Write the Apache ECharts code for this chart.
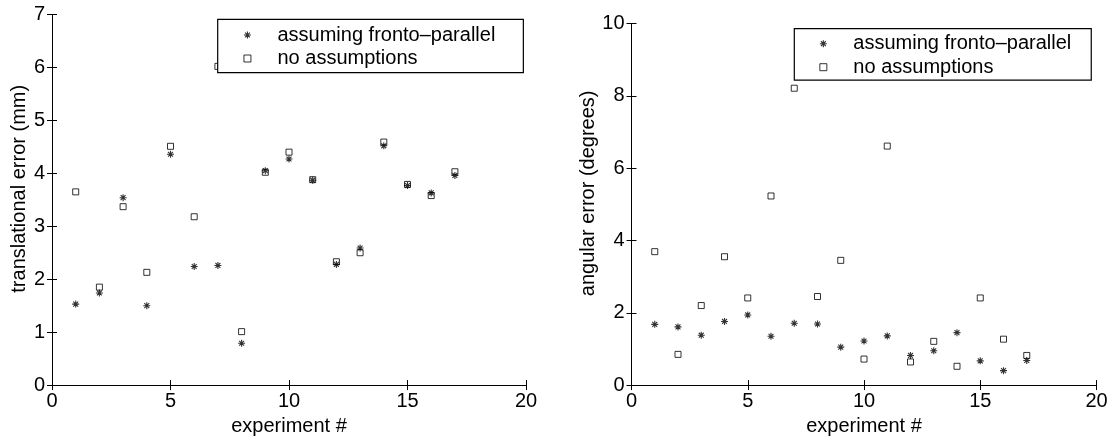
<!DOCTYPE html>
<html>
<head>
<meta charset="utf-8">
<script src="https://cdn.jsdelivr.net/npm/echarts@6/dist/echarts.min.js"></script>
<style>
html,body{margin:0;padding:0;background:#fff;}
#chart{width:1117px;height:441px;}
</style>
</head>
<body>
<div id="chart"></div>
<script>
// ---- data ----
var experiments = [1,2,3,4,5,6,7,8,9,10,11,12,13,14,15,16,17];
var transFronto = [1.53,1.74,3.54,1.50,4.36,2.24,2.26,0.79,4.05,4.27,3.87,2.28,2.59,4.52,3.77,3.63,3.96];
var transNoAssume = [3.65,1.85,3.37,2.13,4.51,3.18,6.02,1.01,4.02,4.40,3.88,2.33,2.50,4.59,3.79,3.58,4.03];
var angFronto = [1.68,1.61,1.38,1.76,1.94,1.35,1.71,1.69,1.05,1.22,1.36,0.82,0.95,1.45,0.67,0.40,0.68];
var angNoAssume = [3.69,0.85,2.20,3.55,2.41,5.23,8.21,2.45,3.45,0.72,6.61,0.64,1.21,0.52,2.41,1.27,0.82];
var seriesNames = ['assuming fronto\u2013parallel', 'no assumptions'];
var xTicks = {min:0, max:20, interval:5};
var yTicksLeft = {min:0, max:7, interval:1};
var yTicksRight = {min:0, max:10, interval:2};
var xLabel = 'experiment #';
var yLabelLeft = 'translational error (mm)';
var yLabelRight = 'angular error (degrees)';

function pairs(xs, ys){ return xs.map(function(x,i){ return [x, ys[i]]; }); }

var FONT = '"Liberation Sans", Arial, Helvetica, sans-serif';
var STAR = 'path://M5,0L5,10M0,5L10,5M1.5,1.5L8.5,8.5M8.5,1.5L1.5,8.5';
var SQUARE = 'path://M0,0L10,0L10,10L0,10Z';

var starStyle = {color:'#000', borderColor:'#000', borderWidth:1.1};
var squareStyle = {color:'rgba(0,0,0,0)', borderColor:'#000', borderWidth:1};

function xAxisPair(grid){
  return [
    {type:'value', gridIndex:grid, position:'bottom', min:xTicks.min, max:xTicks.max, interval:xTicks.interval,
     name:xLabel, nameLocation:'middle', nameGap:25,
     nameTextStyle:{fontFamily:FONT, fontSize:20, color:'#000'},
     axisLine:{show:true, lineStyle:{color:'#000', width:1}},
     axisTick:{show:true, inside:true, length:5, lineStyle:{color:'#000'}},
     axisLabel:{show:true, fontFamily:FONT, fontSize:20, color:'#000', margin:6},
     splitLine:{show:false}},
    {type:'value', gridIndex:grid, position:'top', min:xTicks.min, max:xTicks.max, interval:xTicks.interval,
     axisLine:{show:true, lineStyle:{color:'#000', width:1}},
     axisTick:{show:true, inside:true, length:5, lineStyle:{color:'#000'}},
     axisLabel:{show:false}, splitLine:{show:false}}
  ];
}
function yAxisPair(grid, t, name, gap){
  return [
    {type:'value', gridIndex:grid, position:'left', min:t.min, max:t.max, interval:t.interval,
     name:name, nameLocation:'middle', nameGap:gap,
     nameTextStyle:{fontFamily:FONT, fontSize:20, color:'#000', padding:[0,0,0,22]},
     axisLine:{show:true, lineStyle:{color:'#000', width:1}},
     axisTick:{show:true, inside:true, length:5, lineStyle:{color:'#000'}},
     axisLabel:{show:true, fontFamily:FONT, fontSize:20, color:'#000', margin:7},
     splitLine:{show:false}},
    {type:'value', gridIndex:grid, position:'right', min:t.min, max:t.max, interval:t.interval,
     axisLine:{show:true, lineStyle:{color:'#000', width:1}},
     axisTick:{show:true, inside:true, length:5, lineStyle:{color:'#000'}},
     axisLabel:{show:false}, splitLine:{show:false}}
  ];
}
function legendAt(left, top, padding){
  return {
    orient:'vertical', left:left, top:top, padding:padding,
    itemWidth:50, itemHeight:7, itemGap:3.5, symbolKeepAspect:true,
    backgroundColor:'#fff', borderColor:'#000', borderWidth:1.2, borderRadius:0,
    textStyle:{fontFamily:FONT, fontSize:20, color:'#000'},
    selectedMode:false,
    data:[
      {name:seriesNames[0], icon:STAR, itemStyle:starStyle},
      {name:seriesNames[1], icon:SQUARE, itemStyle:squareStyle}
    ]
  };
}
function scatter(name, xi, yi, data, sym, style, size){
  return {type:'scatter', name:name, xAxisIndex:xi, yAxisIndex:yi, data:data,
    symbol:sym, symbolSize:size, symbolKeepAspect:true, itemStyle:style,
    emphasis:{disabled:true}, silent:true};
}

var chart = echarts.init(document.getElementById('chart'), null, {renderer:'canvas'});
chart.setOption({
  animation:false,
  backgroundColor:'#fff',
  grid:[
    {left:52, top:14.5, width:474, height:374.5, containLabel:false},
    {left:631.5, top:23.5, width:465, height:366.5, containLabel:false}
  ],
  xAxis: xAxisPair(0).concat(xAxisPair(1)),
  yAxis: yAxisPair(0, yTicksLeft, yLabelLeft, 20).concat(yAxisPair(1, yTicksRight, yLabelRight, 30)),
  legend:[
    legendAt(217.7, 19.3, [5.7, 28, 4.2, 25.7]),
    legendAt(794.3, 28.7, [5, 20, 3, 25])
  ],
  series:[
    scatter(seriesNames[0], 0, 0, pairs(experiments, transFronto), STAR, starStyle, 7),
    scatter(seriesNames[1], 0, 0, pairs(experiments, transNoAssume), SQUARE, squareStyle, 6),
    scatter(seriesNames[0], 2, 2, pairs(experiments, angFronto), STAR, starStyle, 7),
    scatter(seriesNames[1], 2, 2, pairs(experiments, angNoAssume), SQUARE, squareStyle, 6)
  ]
});
</script>
</body>
</html>
